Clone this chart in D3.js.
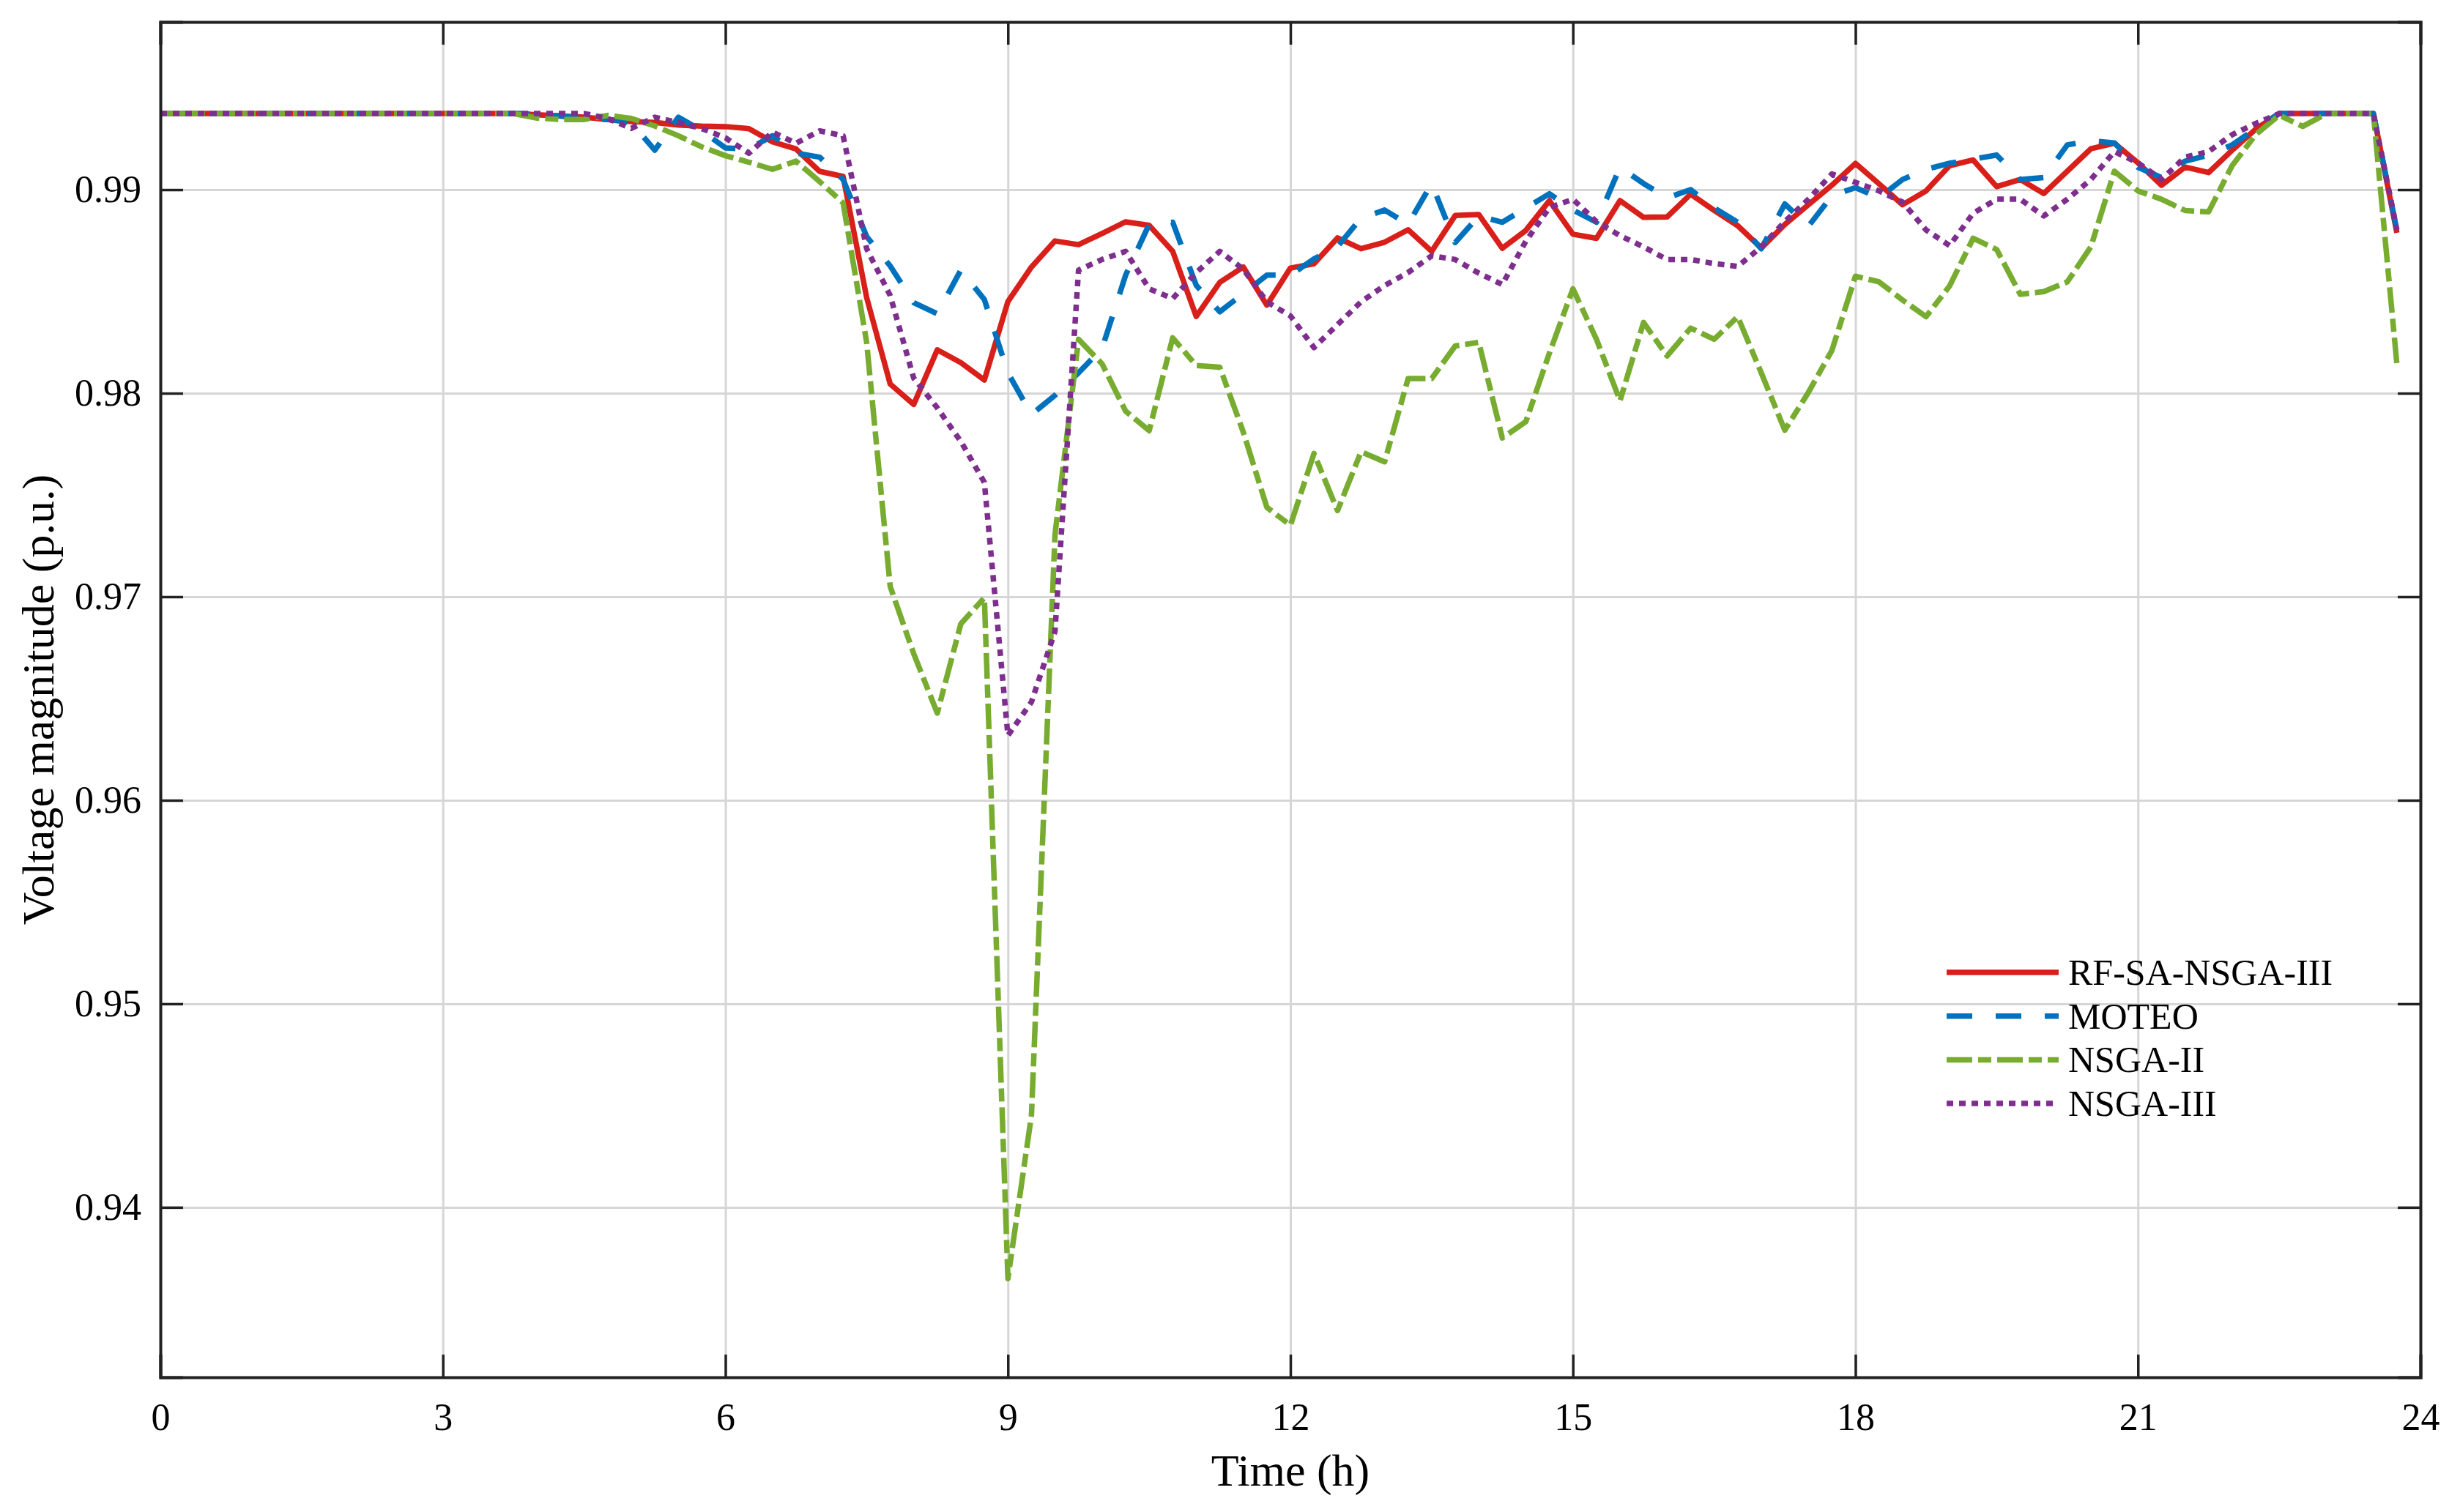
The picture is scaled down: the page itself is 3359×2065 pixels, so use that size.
<!DOCTYPE html>
<html>
<head>
<meta charset="utf-8">
<script src="https://cdn.jsdelivr.net/npm/d3@7"></script>
<style>
body { margin: 0; background: #fff; }
text { font-family: "Liberation Serif", "Times New Roman", serif; fill: #000; }
</style>
</head>
<body>
<svg id="chart" width="3359" height="2065"></svg>
<script>
// time of day, 15 min steps
var timeH = [0,0.25,0.5,0.75,1,1.25,1.5,1.75,2,2.25,2.5,2.75,3,3.25,3.5,3.75,
  4,4.25,4.5,4.75,5,5.25,5.5,5.75,6,6.25,6.5,6.75,7,7.25,7.5,7.75,
  8,8.25,8.5,8.75,9,9.25,9.5,9.75,10,10.25,10.5,10.75,11,11.25,11.5,11.75,
  12,12.25,12.5,12.75,13,13.25,13.5,13.75,14,14.25,14.5,14.75,15,15.25,15.5,15.75,
  16,16.25,16.5,16.75,17,17.25,17.5,17.75,18,18.25,18.5,18.75,19,19.25,19.5,19.75,
  20,20.25,20.5,20.75,21,21.25,21.5,21.75,22,22.25,22.5,22.75,23,23.25,23.5,23.75]

var seriesNames = ["RF-SA-NSGA-III", "MOTEO", "NSGA-II", "NSGA-III"]

var rfSaNsga3 = [0.99374,0.99374,0.99374,0.99374,0.99374,0.99374,0.99374,0.99374,0.99374,0.99374,0.99374,0.99374,0.99374,0.99374,0.99374,0.99374,
  0.99368,0.99362,0.99356,0.99345,0.99335,0.99330,0.99318,0.99312,0.99310,0.99300,0.99235,0.99200,0.99090,0.99065,0.98470,0.98045,
  0.97945,0.98213,0.98150,0.98065,0.98450,0.98620,0.98748,0.98730,0.98785,0.98842,0.98825,0.98697,0.98377,0.98545,0.98620,0.98433,
  0.98615,0.98636,0.98763,0.98710,0.98742,0.98803,0.98697,0.98873,0.98878,0.98712,0.98800,0.98946,0.98781,0.98761,0.98946,0.98864,
  0.98866,0.98978,0.98898,0.98823,0.98713,0.98829,0.98926,0.99022,0.99129,0.99029,0.98926,0.98994,0.99118,0.99146,0.99015,0.99050,
  0.98981,0.99091,0.99201,0.99228,0.99132,0.99022,0.99111,0.99084,0.99194,0.99297,0.99374,0.99374,0.99374,0.99374,0.99374,0.98788]

var moteo = [0.99374,0.99374,0.99374,0.99374,0.99374,0.99374,0.99374,0.99374,0.99374,0.99374,0.99374,0.99374,0.99374,0.99374,0.99374,0.99374,
  0.99370,0.99362,0.99352,0.99345,0.99330,0.99194,0.99356,0.99290,0.99205,0.99200,0.99265,0.99180,0.99160,0.99050,0.98770,0.98625,
  0.98445,0.98390,0.98605,0.98460,0.98100,0.97895,0.97990,0.98100,0.98220,0.98580,0.98830,0.98840,0.98530,0.98400,0.98490,0.98580,
  0.98580,0.98660,0.98720,0.98860,0.98900,0.98830,0.99030,0.98740,0.98870,0.98840,0.98910,0.98980,0.98900,0.98840,0.99110,0.99030,
  0.98960,0.99000,0.98910,0.98840,0.98710,0.98930,0.98820,0.98970,0.99010,0.98960,0.99050,0.99100,0.99130,0.99150,0.99170,0.99050,
  0.99060,0.99220,0.99240,0.99230,0.99110,0.99060,0.99140,0.99170,0.99220,0.99300,0.99374,0.99374,0.99374,0.99374,0.99374,0.98800]

var nsga2 = [0.99374,0.99374,0.99374,0.99374,0.99374,0.99374,0.99374,0.99374,0.99374,0.99374,0.99374,0.99374,0.99374,0.99374,0.99374,0.99374,
  0.99352,0.99345,0.99345,0.99365,0.99350,0.99313,0.99265,0.99210,0.99167,0.99135,0.99100,0.99140,0.99040,0.98935,0.98250,0.97050,
  0.96720,0.96428,0.96867,0.96995,0.93650,0.94452,0.97306,0.98265,0.98144,0.97912,0.97816,0.98272,0.98136,0.98128,0.97808,0.97439,
  0.97351,0.97704,0.97423,0.97712,0.97663,0.98072,0.98072,0.98232,0.98250,0.97780,0.97860,0.98197,0.98513,0.98265,0.97963,0.98348,
  0.98183,0.98320,0.98265,0.98376,0.98100,0.97818,0.98004,0.98210,0.98575,0.98547,0.98458,0.98376,0.98527,0.98761,0.98706,0.98486,
  0.98499,0.98547,0.98719,0.99091,0.98994,0.98953,0.98898,0.98891,0.99118,0.99270,0.99366,0.99311,0.99373,0.99374,0.99374,0.98142]

var nsga3 = [0.99374,0.99374,0.99374,0.99374,0.99374,0.99374,0.99374,0.99374,0.99374,0.99374,0.99374,0.99374,0.99374,0.99374,0.99374,0.99374,
  0.99374,0.99374,0.99374,0.99350,0.99301,0.99356,0.99330,0.99300,0.99255,0.99179,0.99283,0.99228,0.99289,0.99265,0.98710,0.98480,
  0.98074,0.97928,0.97763,0.97562,0.96318,0.96483,0.96830,0.98605,0.98657,0.98697,0.98513,0.98465,0.98593,0.98697,0.98609,0.98449,
  0.98380,0.98224,0.98337,0.98449,0.98529,0.98593,0.98675,0.98657,0.98590,0.98534,0.98747,0.98912,0.98953,0.98843,0.98774,0.98719,
  0.98657,0.98657,0.98637,0.98623,0.98719,0.98843,0.98953,0.99077,0.99036,0.98994,0.98939,0.98802,0.98725,0.98884,0.98953,0.98953,
  0.98871,0.98953,0.99050,0.99187,0.99132,0.99050,0.99160,0.99187,0.99270,0.99325,0.99374,0.99374,0.99374,0.99374,0.99374,0.98802]

var xTicks = [0, 3, 6, 9, 12, 15, 18, 21, 24]
var yTicks = [0.94, 0.95, 0.96, 0.97, 0.98, 0.99]

var colors = ["#d91f1a", "#0072bd", "#77ac30", "#7e2f8e"]
var dashes = [null, "35,32", "35,8,18,8", "9,8"]
var allSeries = [rfSaNsga3, moteo, nsga2, nsga3]

var W = 3359, H = 2065
var m = {left: 219, top: 30, right: 54, bottom: 184}
var w = W - m.left - m.right
var h = H - m.top - m.bottom

var svg = d3.select("#chart")
svg.append("rect").attr("width", W).attr("height", H).attr("fill", "#fff")

var g = svg.append("g").attr("transform", "translate(" + m.left + "," + m.top + ")")

var x = d3.scaleLinear().domain([0, 24]).range([0, w])
var y = d3.scaleLinear().domain([0.93165, 0.99824]).range([h, 0])

// grid
g.append("g").attr("class", "grid")
  .attr("transform", "translate(0," + h + ")")
  .call(d3.axisBottom(x).tickValues(xTicks).tickSize(-h).tickFormat(""))
g.append("g").attr("class", "grid")
  .call(d3.axisLeft(y).tickValues(yTicks).tickSize(-w).tickFormat(""))
g.selectAll(".grid .domain").remove()
g.selectAll(".grid line").attr("stroke", "#d6d6d6").attr("stroke-width", 3)

// lines
var line = d3.line()
  .x(function(d, i) { return x(timeH[i]) })
  .y(function(d) { return y(d) })

allSeries.forEach(function(s, k) {
  g.append("path")
    .datum(s)
    .attr("fill", "none")
    .attr("stroke", colors[k])
    .attr("stroke-width", 7.5)
    .attr("stroke-linejoin", "round")
    .attr("stroke-dasharray", dashes[k])
    .attr("d", line)
})

// axes with inward ticks on all sides
var tickLen = 31
var xb = g.append("g").attr("transform", "translate(0," + h + ")")
  .call(d3.axisBottom(x).tickValues(xTicks).tickSize(-tickLen).tickPadding(0).tickFormat(d3.format("d")))
xb.selectAll("text").attr("y", 54).attr("dy", "0.35em")
var yl = g.append("g")
  .call(d3.axisLeft(y).tickValues(yTicks).tickSize(-tickLen).tickPadding(0).tickFormat(d3.format(".2f")))
yl.selectAll("text").attr("x", -26)
g.append("g")
  .call(d3.axisTop(x).tickValues(xTicks).tickSize(-tickLen).tickFormat(""))
g.append("g").attr("transform", "translate(" + w + ",0)")
  .call(d3.axisRight(y).tickValues(yTicks).tickSize(-tickLen).tickFormat(""))

g.selectAll(".domain").attr("stroke", "#222").attr("stroke-width", 4)
g.selectAll(".tick line").filter(function() { return !this.parentNode.parentNode.classList.contains("grid") })
  .attr("stroke", "#222").attr("stroke-width", 3.5)
g.selectAll(".tick text").style("font-size", "52px").style("font-family", "'Liberation Serif', serif").attr("fill", "#000")

// axis titles
svg.append("text")
  .attr("x", m.left + w / 2).attr("y", 2008)
  .attr("text-anchor", "middle").attr("dominant-baseline", "central")
  .style("font-size", "62px")
  .text("Time (h)")
svg.append("text")
  .attr("transform", "translate(52," + (m.top + h / 2) + ") rotate(-90)")
  .attr("text-anchor", "middle").attr("dominant-baseline", "central")
  .style("font-size", "62px")
  .text("Voltage magnitude (p.u.)")

// legend
var leg = svg.append("g").attr("transform", "translate(2658,1328)")
seriesNames.forEach(function(name, k) {
  var row = leg.append("g").attr("transform", "translate(0," + (k * 59.7) + ")")
  row.append("line")
    .attr("x1", 0).attr("x2", 153).attr("y1", 0).attr("y2", 0)
    .attr("stroke", colors[k]).attr("stroke-width", 7.5)
    .attr("stroke-dasharray", dashes[k])
  row.append("text")
    .attr("x", 166).attr("y", 0)
    .attr("dominant-baseline", "central")
    .style("font-size", "50px")
    .text(name)
})
</script>
</body>
</html>
